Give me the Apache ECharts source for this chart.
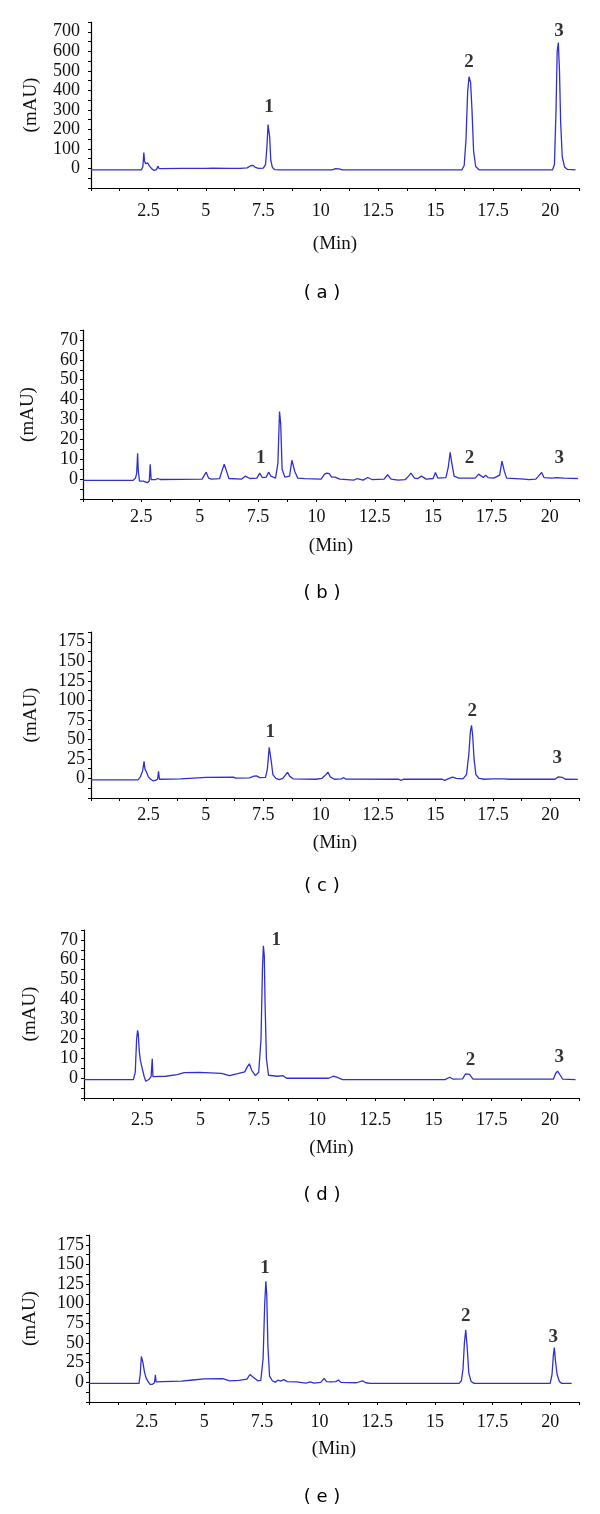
<!DOCTYPE html>
<html>
<head>
<meta charset="utf-8">
<script src="https://cdn.jsdelivr.net/npm/echarts@6/dist/echarts.min.js"></script>
<style>
html,body{margin:0;padding:0;background:#fff;}
#chart{width:600px;height:1514px;}
</style>
</head>
<body>
<div id="chart"></div>
<script>
// ---------- DATA (time in min, absorbance in mAU) ----------
const panelNames = ['( a )', '( b )', '( c )', '( d )', '( e )'];
const peakNames = ['1', '2', '3'];
const xAxisName = '(Min)';
const yAxisName = '(mAU)';

const traceA = [
[0,-7],[2.2,-7],[2.26,10],[2.3,82],[2.33,40],[2.37,25],[2.42,30],[2.47,28],[2.55,12],[2.65,-2],[2.75,-10],[2.85,-6],[2.92,12],[2.96,0],[3.05,-1],
[4.0,1],[5.0,0],[5.3,2],[6.0,1],[6.5,0],[6.8,3],[6.95,14],[7.05,16],[7.15,6],[7.3,0],[7.5,2],[7.6,20],[7.66,110],[7.71,225],[7.74,235],[7.78,160],[7.83,40],[7.9,5],[8.0,-6],
[8.2,-7],[10.5,-7],[10.65,-1],[10.8,-2],[10.95,-7],[16.15,-7],[16.25,15],[16.33,150],[16.4,390],[16.46,470],[16.49,474],[16.53,440],[16.59,300],[16.66,90],[16.75,10],[16.9,-7],
[20.1,-7],[20.18,20],[20.25,300],[20.3,600],[20.35,645],[20.4,500],[20.45,240],[20.52,60],[20.62,8],[20.75,-5],[21.1,-7]
];
const traceB = [
[0,-0.6],[2.15,-0.6],[2.25,0.5],[2.3,3],[2.34,13],[2.37,4],[2.42,-1],[2.5,-1.5],[2.58,-1],[2.65,-2],[2.75,-1.8],[2.84,-1],[2.88,7.5],[2.92,-0.3],[3.1,-0.3],[3.2,0.3],[3.3,-0.2],
[5.1,0],[5.2,2],[5.28,3.5],[5.38,0.5],[5.5,0],[5.85,0.2],[5.95,4],[6.05,7.5],[6.15,4],[6.25,0.3],[6.8,0],[6.95,1.5],[7.02,1.8],[7.15,0.3],[7.45,0.5],[7.57,3],[7.68,0.8],[7.85,1],[7.95,3.5],[8.05,1.5],[8.25,0.5],[8.35,8],[8.42,34],[8.47,28],[8.53,5],[8.65,1],[8.85,1.5],[8.95,9.5],[9.0,10],[9.07,4],[9.2,0.5],[9.5,0.2],[10.2,0],[10.35,2.5],[10.45,3],[10.55,2.8],[10.65,1],[10.8,1],[11.0,0],[11.6,-0.5],[11.75,0.3],[12.0,-0.5],[12.2,0.8],[12.4,-0.3],[12.9,0],[13.05,2.2],[13.2,0],[13.5,-0.5],[13.8,-0.3],[13.95,1.5],[14.05,3],[14.2,0.5],[14.35,0.3],[14.5,1.5],[14.58,2.2],[14.7,0],[15.0,0.3],[15.1,3.3],[15.2,0.5],[15.55,0.8],[15.65,6],[15.73,13.5],[15.8,8],[15.9,1.5],[16.1,0.5],[16.8,0.5],[16.95,2.5],[17.02,3],[17.15,0.8],[17.25,2],[17.35,0.8],[17.6,0.5],[17.85,2],[17.95,9],[18.05,4],[18.15,0.5],[18.9,0],[19.1,-0.3],[19.4,0],[19.55,2],[19.65,3.3],[19.75,0.8],[20.1,0.5],[20.3,0.8],[20.6,0.5],[21.2,0.3]
];
const traceC = [
[0,-1.7],[2.05,-1.7],[2.15,2],[2.25,10],[2.31,22],[2.35,12],[2.42,8],[2.5,2],[2.6,-1],[2.7,-3],[2.8,-2.5],[2.9,-1],[2.94,9],[2.98,-1],[3.5,-0.8],[3.9,-0.5],[3.95,1.3],[5.0,1.5],[6.2,1.7],[6.3,0.5],[6.9,0.8],[7.1,3],[7.2,3.4],[7.35,1],[7.6,1.5],[7.68,12],[7.76,40],[7.8,40.8],[7.85,22],[7.92,5],[8.05,0],[8.2,-1.5],[8.35,0],[8.48,5],[8.56,8],[8.65,3],[8.8,-0.5],[9.8,-1],[10.05,0],[10.2,4],[10.32,8],[10.42,2],[10.6,-1],[10.9,-0.5],[11.0,1],[11.1,-0.8],[13.4,-1],[13.5,-2.5],[13.6,-1],[15.3,-1],[15.4,-2.5],[15.6,0],[15.75,1.7],[15.9,0],[16.2,-0.5],[16.35,5],[16.45,30],[16.52,60],[16.57,68],[16.62,55],[16.68,25],[16.76,5],[16.9,0],[17.1,-1],[17.5,-0.5],[18.0,-0.5],[18.2,-1],[20.2,-1],[20.35,2],[20.43,2.6],[20.52,1.5],[20.65,-1],[21.2,-1.2]
];
const traceD = [
[0,-0.7],[2.12,-0.7],[2.2,3],[2.26,20],[2.3,24.2],[2.33,22.5],[2.37,14],[2.42,9],[2.5,5],[2.58,1],[2.65,-1.5],[2.72,-2],[2.8,-0.5],[2.88,0.8],[2.93,9.8],[2.96,0.8],[3.5,1],[4.0,1.8],[4.3,2.8],[4.95,3],[5.9,2.5],[6.25,1.3],[6.6,2.3],[6.9,3.2],[7.02,6],[7.1,7.3],[7.2,4],[7.36,1.3],[7.5,3],[7.6,20],[7.66,55],[7.7,67],[7.74,62],[7.77,40],[7.83,10],[7.92,1.5],[8.0,0.8],[8.3,1],[8.55,1.3],[8.7,0],[9.3,0],[9.36,0.5],[9.5,0],[10.5,0],[10.7,1],[10.85,0.6],[11.1,-0.7],[15.5,-0.7],[15.7,0.5],[15.85,-0.5],[16.25,-0.3],[16.38,2.2],[16.46,3],[16.55,2],[16.7,-0.5],[20.15,-0.5],[20.25,2.5],[20.33,3.6],[20.42,2],[20.55,-0.5],[21.1,-0.7]
];
const traceE = [
[0,-1.3],[2.17,-1.3],[2.22,10],[2.27,33],[2.3,34.6],[2.34,25],[2.4,14],[2.47,6],[2.55,1.5],[2.65,-2.5],[2.75,-2.5],[2.84,-0.5],[2.88,9.7],[2.91,0.5],[3.2,0.8],[4.0,1.5],[4.5,3],[5.0,4.5],[5.8,4.8],[6.1,2],[6.5,2.5],[6.85,4],[6.98,10],[7.05,11.8],[7.15,6],[7.32,2],[7.45,2.5],[7.55,30],[7.62,100],[7.67,128.7],[7.71,110],[7.76,45],[7.83,8],[7.95,2],[8.08,0],[8.2,3],[8.3,1.5],[8.45,3.4],[8.6,1],[9.0,0.5],[9.4,-1],[9.6,0.5],[9.75,-1],[10.05,0],[10.2,5],[10.3,1],[10.5,0.5],[10.7,1],[10.82,3],[10.92,0],[11.0,-1],[11.6,-0.5],[11.86,2],[12.0,-0.5],[12.2,-1.3],[16.05,-1.3],[16.15,2],[16.22,17],[16.28,50],[16.34,66.7],[16.4,45],[16.47,12],[16.57,1],[16.7,-1.3],[20.0,-1.3],[20.08,10],[20.14,35],[20.18,44.3],[20.23,27],[20.3,10],[20.4,1],[20.5,-1.3],[20.93,-1.3]
];

// peak-number label anchors [time, mAU] for peaks 1, 2, 3
const peakPosA = [[7.75,312],[16.46,543],[20.38,701]];
const peakPosB = [[7.62,10.5],[16.56,10.5],[20.4,10.5]];
const peakPosC = [[7.81,58.9],[16.6,86.3],[20.3,25.8]];
const peakPosD = [[8.25,69.9],[16.59,9],[20.4,10.7]];
const peakPosE = [[7.63,146],[16.34,84.4],[20.13,57.8]];

// axis scales: [min, max, tick interval, label step, last labelled value]
const xScale = [0, 21.25, 1.25, 2.5];
const xLabelMax = 20;
const yScaleA = [-100, 750, 50, 100, 700];
const yScaleB = [-10, 75, 5, 10, 70];
const yScaleC = [-25, 187.5, 12.5, 25, 175];
const yScaleD = [-10, 75, 5, 10, 70];
const yScaleE = [-25, 187.5, 12.5, 25, 175];

// ---------- LAYOUT / STYLE ----------
const traces = [traceA, traceB, traceC, traceD, traceE];
const peakPos = [peakPosA, peakPosB, peakPosC, peakPosD, peakPosE];
const yScales = [yScaleA, yScaleB, yScaleC, yScaleD, yScaleE];
const layout = [
  {left: 91, top: 22,   height: 166, yMargin: 11, xMargin: 14, xGap: 47, yGap: 50, cap: 293},
  {left: 83, top: 330,  height: 169, yMargin: 5,  xMargin: 9,  xGap: 38, yGap: 45, cap: 593},
  {left: 91, top: 632,  height: 166, yMargin: 6,  xMargin: 8,  xGap: 36, yGap: 50, cap: 886},
  {left: 84, top: 930,  height: 168, yMargin: 6,  xMargin: 13, xGap: 41, yGap: 44, cap: 1195},
  {left: 89, top: 1235, height: 167, yMargin: 5,  xMargin: 11, xGap: 38, yGap: 49, cap: 1497}
];
const RIGHT = 21;
const lineColor = '#3030d2';
const serif = "'Liberation Serif', 'Times New Roman', serif";

const isMult = (v, s) => Math.abs(v / s - Math.round(v / s)) < 1e-6;

const grids = [], xAxes = [], yAxes = [], series = [], graphics = [];
layout.forEach((L, i) => {
  const ys = yScales[i];
  grids.push({left: L.left, right: RIGHT, top: L.top, height: L.height, containLabel: false});
  xAxes.push({
    type: 'value', gridIndex: i, min: xScale[0], max: xScale[1], interval: xScale[2],
    name: xAxisName, nameLocation: 'middle', nameGap: L.xGap,
    nameTextStyle: {fontFamily: serif, fontSize: 19, color: '#111'},
    axisLine: {show: true, onZero: false, lineStyle: {color: '#000', width: 1.2}},
    axisTick: {show: true, inside: false, length: 3, lineStyle: {color: '#000'}},
    axisLabel: {
      margin: L.xMargin, fontFamily: serif, fontSize: 18, color: '#111',
      formatter: v => (v > 0 && v <= xLabelMax && isMult(v, xScale[3])) ? String(v) : ''
    },
    splitLine: {show: false}
  });
  yAxes.push({
    type: 'value', gridIndex: i, min: ys[0], max: ys[1], interval: ys[2],
    name: yAxisName, nameLocation: 'middle', nameGap: L.yGap, nameRotate: 90,
    nameTextStyle: {fontFamily: serif, fontSize: 19, color: '#111'},
    axisLine: {show: true, onZero: false, lineStyle: {color: '#000', width: 1.2}},
    axisTick: {show: true, inside: false, length: 3, lineStyle: {color: '#000'}},
    axisLabel: {
      margin: L.yMargin, fontFamily: serif, fontSize: 18, color: '#111',
      formatter: v => (v >= 0 && v <= ys[4] && isMult(v, ys[3])) ? String(v) : ''
    },
    splitLine: {show: false}
  });
  series.push({
    type: 'line', xAxisIndex: i, yAxisIndex: i, data: traces[i],
    showSymbol: false, symbol: 'none', silent: true,
    lineStyle: {color: lineColor, width: 1.3}
  });
  series.push({
    type: 'scatter', xAxisIndex: i, yAxisIndex: i, symbolSize: 0, silent: true,
    data: peakPos[i].map((p, k) => ({value: p, name: peakNames[k]})),
    label: {show: true, position: 'inside', formatter: '{b}', fontFamily: serif,
            fontWeight: 'bold', fontSize: 19, color: '#000'}
  });
  graphics.push({
    type: 'text', x: 322, y: L.cap,
    style: {text: panelNames[i], fontFamily: "'DejaVu Sans', sans-serif", fontSize: 18,
            fill: '#000', align: 'center', verticalAlign: 'middle'}
  });
});

const chart = echarts.init(document.getElementById('chart'), null, {renderer: 'canvas'});
chart.setOption({
  animation: false,
  backgroundColor: '#fff',
  grid: grids, xAxis: xAxes, yAxis: yAxes, series: series, graphic: graphics
});
</script>
</body>
</html>
